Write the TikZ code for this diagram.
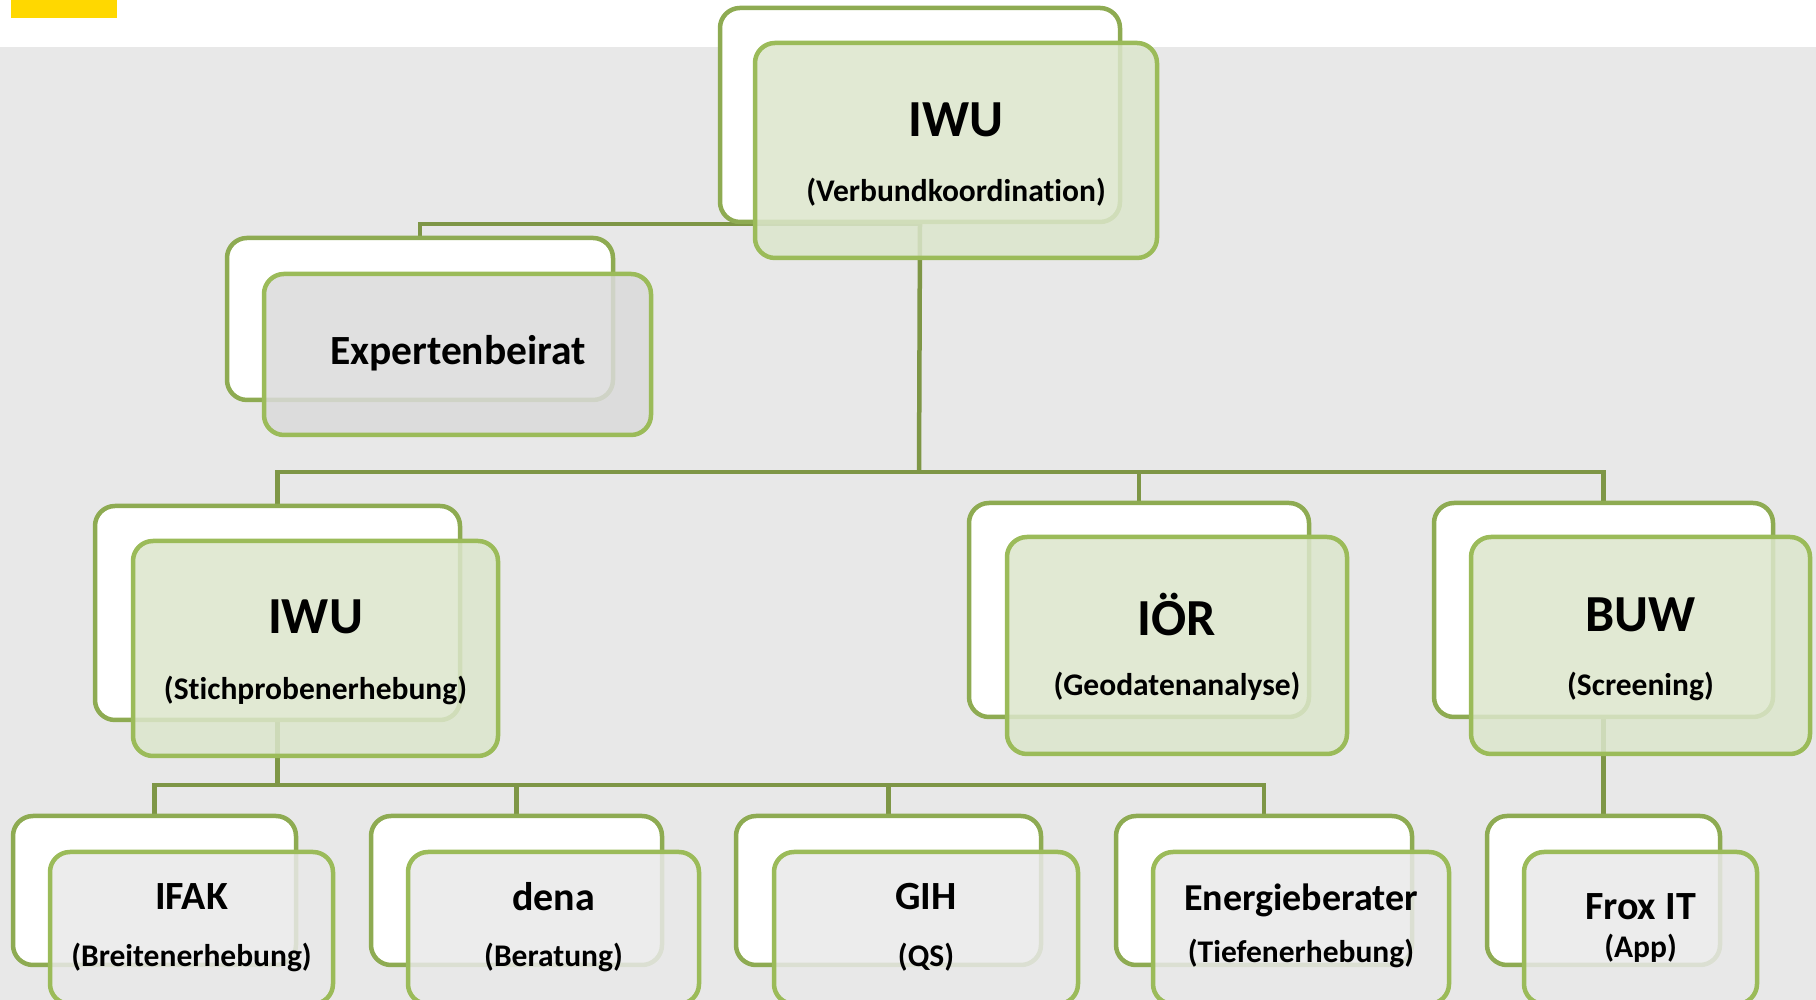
\documentclass[tikz,border=0pt]{standalone}
\usepackage{fontspec}
\setmainfont{Carlito}[Ligatures=NoCommon]
\usepackage{tikz}
\usetikzlibrary{positioning, backgrounds}
\usepackage{xcolor}
\definecolor{backline}{HTML}{8EAB52}
\definecolor{frontline}{HTML}{9BBB59}
\definecolor{linkline}{HTML}{7E9646}
\definecolor{frontfill}{HTML}{DCE6CC}
\definecolor{greyfill}{HTML}{DBDBDB}
\definecolor{lightfill}{HTML}{E9E9E9}
\definecolor{bggrey}{HTML}{E8E8E8}
\definecolor{baryellow}{HTML}{FFD800}
\tikzstyle{backbox} = [
    rectangle, rounded corners=20pt, draw=backline, fill=white,
    line width=4.5pt, inner sep=0pt
]
\tikzstyle{frontbox} = [
    rectangle, rounded corners=20pt, draw=frontline, fill=frontfill,
    fill opacity=0.85, draw opacity=1, line width=4.5pt, inner sep=0pt
]
\tikzstyle{title} = [inner sep=0pt, font=\fontsize{52}{60}\selectfont\bfseries]
\tikzstyle{smalltitle} = [inner sep=0pt, font=\fontsize{40}{46}\selectfont\bfseries]
\tikzstyle{sub} = [inner sep=0pt, font=\fontsize{31.5}{37}\selectfont\bfseries]
\tikzstyle{link} = [line width=4.5pt, draw=linkline]

\begin{document}
\begin{tikzpicture}[x=1pt, y=1pt]

    \useasboundingbox (0,0) rectangle (1816,1000);

    % Level 1
    \node[backbox, minimum width=400pt, minimum height=214pt] (topB) at (920,885) {};
    \node[frontbox, minimum width=402pt, minimum height=215pt] (topF) at (956,849.5) {};
    \node[title] (topT) at (956,880) {IWU};
    \node[sub] (topS) at (956,808) {(Verbundkoordination)};

    % Expert board
    \node[backbox, minimum width=386pt, minimum height=162pt] (expB) at (420,681) {};
    \node[frontbox, fill=greyfill, minimum width=387pt, minimum height=161pt] (expF) at (457.5,645.5) {};
    \node[inner sep=0pt, font=\fontsize{41.5}{48}\selectfont\bfseries] (expT) at (458,647) {Expertenbeirat};

    % Level 2
    \node[backbox, minimum width=365pt, minimum height=214pt] (iwuB) at (277.5,387) {};
    \node[frontbox, minimum width=365pt, minimum height=215pt] (iwuF) at (315.5,351.5) {};
    \node[title] (iwuT) at (315.5,383) {IWU};
    \node[sub] (iwuS) at (315.5,310) {(Stichprobenerhebung)};

    \node[backbox, minimum width=340pt, minimum height=214pt] (iorB) at (1139,390) {};
    \node[frontbox, minimum width=340pt, minimum height=217pt] (iorF) at (1177,354.5) {};
    \node[title] (iorT) at (1177,385) {IÖR};
    \node[sub] (iorS) at (1177,314) {(Geodatenanalyse)};

    \node[backbox, minimum width=339pt, minimum height=214pt] (buwB) at (1603.5,390) {};
    \node[frontbox, minimum width=339pt, minimum height=217pt] (buwF) at (1640.5,354.5) {};
    \node[title] (buwT) at (1640.5,385) {BUW};
    \node[sub] (buwS) at (1640.5,314) {(Screening)};

    % Level 3
    \node[backbox, minimum width=283pt, minimum height=149pt] (ifakB) at (154.5,109.5) {};
    \node[frontbox, fill=lightfill, minimum width=283pt, minimum height=152pt] (ifakF) at (191.5,72) {};
    \node[smalltitle] (ifakT) at (191.5,103) {IFAK};
    \node[sub] (ifakS) at (191.5,43) {(Breitenerhebung)};

    \node[backbox, minimum width=291pt, minimum height=149pt] (denaB) at (516.5,109.5) {};
    \node[frontbox, fill=lightfill, minimum width=291pt, minimum height=152pt] (denaF) at (553.5,72) {};
    \node[smalltitle] (denaT) at (553.5,103) {dena};
    \node[sub] (denaS) at (553.5,43) {(Beratung)};

    \node[backbox, minimum width=305pt, minimum height=149pt] (gihB) at (888.5,109.5) {};
    \node[frontbox, fill=lightfill, minimum width=304pt, minimum height=152pt] (gihF) at (926,72) {};
    \node[smalltitle] (gihT) at (926,103) {GIH};
    \node[sub] (gihS) at (926,43) {(QS)};

    \node[backbox, minimum width=296pt, minimum height=149pt] (enbB) at (1264,109.5) {};
    \node[frontbox, fill=lightfill, minimum width=296pt, minimum height=152pt] (enbF) at (1301,72) {};
    \node[smalltitle, font=\fontsize{38}{44}\selectfont\bfseries] (enbT) at (1301,100) {Energieberater};
    \node[sub] (enbS) at (1301,47) {(Tiefenerhebung)};

    \node[backbox, minimum width=233pt, minimum height=149pt] (froxB) at (1603.5,109.5) {};
    \node[frontbox, fill=lightfill, minimum width=233pt, minimum height=152pt] (froxF) at (1640.5,72) {};
    \node[smalltitle] (froxT) at (1640.5,93) {Frox IT};
    \node[sub] (froxS) at (1640.5,52) {(App)};

    \begin{scope}[on background layer]
        % Page
        \fill[white] (0,0) rectangle (1816,1000);
        \fill[bggrey] (0,0) rectangle (1816,953);
        \fill[baryellow] (11,1000) rectangle (117,982);

        \coordinate (hub) at (919,528);
        \coordinate (hub2) at (277.5,215);

        % Links
        \draw[link] (topB.south) -| (expB.north);
        \draw[link] (topB.south) -- (hub);
        \draw[link] (hub) -| (iwuB.north);
        \draw[link] (hub) -| (iorB.north);
        \draw[link] (hub) -| (buwB.north);

        \draw[link] (iwuB.south) -- (hub2);
        \draw[link] (hub2) -| (ifakB.north);
        \draw[link] (hub2) -| (denaB.north);
        \draw[link] (hub2) -| (gihB.north);
        \draw[link] (hub2) -| (enbB.north);
        \draw[link] (buwB.south) -- (froxB.north);
    \end{scope}

\end{tikzpicture}
\end{document}
